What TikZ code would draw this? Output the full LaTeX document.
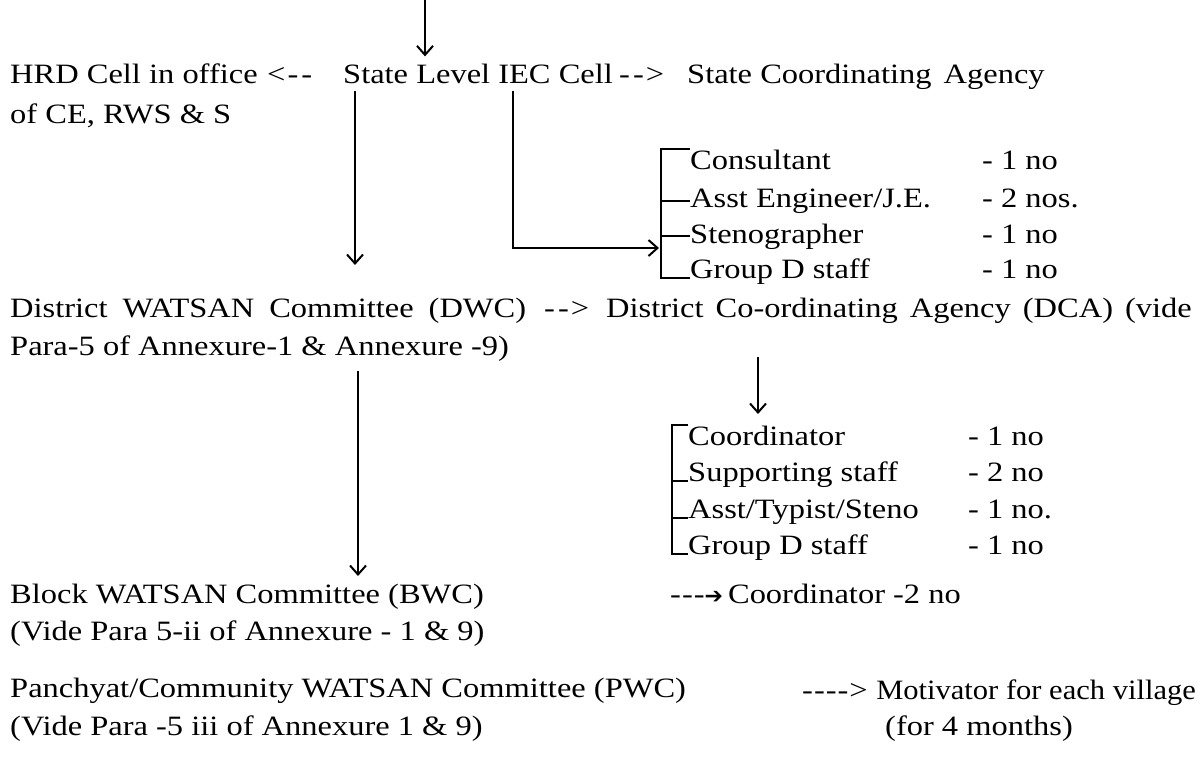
\documentclass[tikz,border=0pt]{standalone}
\usepackage{fontspec}
\newfontfamily\docfont[FakeStretch=1.16]{Liberation Serif}
\newfontfamily\docnarrow[FakeStretch=1.09]{Liberation Serif}
\newfontfamily\symfont{DejaVu Sans}
\usetikzlibrary{arrows.meta}
\tikzset{
    lbl/.style={anchor=base west,inner sep=0pt,font=\docfont\fontsize{28}{34}\selectfont},
    arr/.style={-{Straight Barb[length=9pt,width=16pt]},line width=2pt},
    brk/.style={line width=2pt}
}
\begin{document}
\begin{tikzpicture}[x=1pt,y=-1pt]
    \useasboundingbox (0,0) rectangle (1201,758);

    % state level
    \node[lbl] (hrd) at (10,83) {HRD Cell in office};
    \node[lbl] (hrdarr) at (267,83) {<\kern2pt-\kern3pt-};
    \node[lbl] (iec) at (343,83) {State Level IEC Cell};
    \node[lbl] (scaarr) at (619,83) {-\kern3pt-\kern2pt>};
    \node[lbl] (sca) at (687,83) {State Coordinating\hspace{12pt}Agency};
    \node[lbl] (hrd2) at (10,123) {of CE, RWS \& S};

    \node[lbl] (c1) at (690,169) {Consultant};
    \node[lbl] (c2) at (690,207) {Asst Engineer/J.E.};
    \node[lbl] (c3) at (690,243) {Stenographer};
    \node[lbl] (c4) at (690,278) {Group D staff};
    \node[lbl] (n1) at (982,169) {- 1 no};
    \node[lbl] (n2) at (982,207) {- 2 nos.};
    \node[lbl] (n3) at (982,243) {- 1 no};
    \node[lbl] (n4) at (982,278) {- 1 no};

    % district level
    \node[lbl] (dwc) at (10,317) {\spaceskip=15pt District WATSAN Committee (DWC)};
    \node[lbl] (dwcarr) at (544,317) {-\kern3pt-\kern2pt>};
    \node[lbl] (dca) at (606,317) {\spaceskip=12pt District Co-ordinating Agency (DCA) (vide};
    \node[lbl] (dcapara) at (10,355) {Para-5 of Annexure-1 \& Annexure -9)};

    \node[lbl] (d1) at (688,445) {Coordinator};
    \node[lbl] (d2) at (688,481) {Supporting staff};
    \node[lbl] (d3) at (688,518) {Asst/Typist/Steno};
    \node[lbl] (d4) at (688,554) {Group D staff};
    \node[lbl] (m1) at (968,445) {- 1 no};
    \node[lbl] (m2) at (968,481) {- 2 no};
    \node[lbl] (m3) at (968,518) {- 1 no.};
    \node[lbl] (m4) at (968,554) {- 1 no};

    % block and panchayat level
    \node[lbl] (bwc) at (10,603) {Block WATSAN Committee (BWC)};
    \node[lbl] (bwc2) at (10,640) {(Vide Para 5-ii of Annexure - 1 \& 9)};
    \node[lbl] (bcoord) at (670,603) {-\kern1pt-\kern1pt-{\symfont\fontsize{22}{26}\selectfont ➔}\kern5pt Coordinator -2 no};
    \node[lbl] (pwc) at (10,697) {Panchyat/Community WATSAN Committee (PWC)};
    \node[lbl] (pwc2) at (10,735) {(Vide Para -5 iii of Annexure 1 \& 9)};
    \node[lbl] (motivarr) at (802,699) {-\kern1pt-\kern1pt-\kern1pt-\kern1pt>};
    \node[lbl,anchor=base east,font=\docnarrow\fontsize{28}{34}\selectfont] (motiv) at (1196,699) {Motivator for each village};
    \node[lbl] (motiv2) at (885,735) {(for 4 months)};

    % connectors
    \coordinate (topin) at (425,0);
    \coordinate (dwcin) at (355,0);
    \coordinate (dwctip) at (355,265);
    \coordinate (iecdrop) at (513,0);
    \coordinate (sbr) at (659,248);
    \coordinate (ubr) at (661,0);
    \coordinate (bwcin) at (358,0);
    \coordinate (bwctip) at (358,576);
    \coordinate (dcain) at (758,0);
    \coordinate (dcatip) at (758,414);
    \coordinate (lbr) at (672,0);

    \draw[arr] (topin) -- ([yshift=7pt]iec.north -| topin);
    \draw[arr] ([yshift=-8pt]iec.south -| dwcin) -- (dwctip);
    \draw[arr] ([yshift=-8pt]iec.south -| iecdrop) |- (sbr);
    \draw[arr] ([yshift=-10pt]dcapara.south -| bwcin) -- (bwctip);
    \draw[arr] ([yshift=-40pt]dca.base -| dcain) -- (dcatip);

    \draw[brk] (c1.north west) -- (c1.north west -| ubr) -- (c4.base west -| ubr) -- (c4.base west);
    \foreach \n in {c2,c3} {\draw[brk] (\n.west -| ubr) -- (\n.west);}
    \draw[brk] (d1.north west) -- (d1.north west -| lbr) -- (d4.base west -| lbr) -- (d4.base west);
    \foreach \n in {d2,d3} {\draw[brk] (\n.base west -| lbr) -- (\n.base west);}
\end{tikzpicture}
\end{document}
